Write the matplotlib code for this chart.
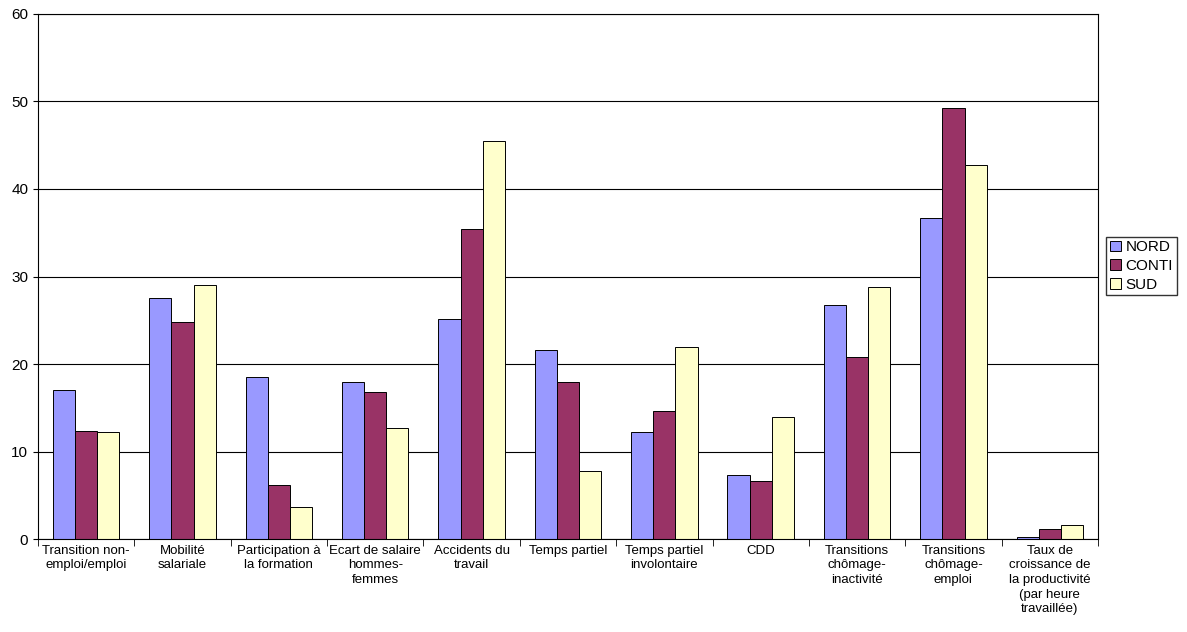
import numpy as np
import matplotlib.pyplot as plt

plt.rcParams['font.family'] = ['Liberation Sans', 'DejaVu Sans']

categories = ["Transition non-\nemploi/emploi", "Mobilité\nsalariale", "Participation à\nla formation",
              "Ecart de salaire\nhommes-\nfemmes", "Accidents du\ntravail", "Temps partiel",
              "Temps partiel\ninvolontaire", "CDD", "Transitions\nchômage-\ninactivité",
              "Transitions\nchômage-\nemploi", "Taux de\ncroissance de\nla productivité\n(par heure\ntravaillée)"]
nord = [17.0, 27.5, 18.5, 18.0, 25.2, 21.6, 12.2, 7.3, 26.7, 36.7, 0.2]
conti = [12.4, 24.8, 6.2, 16.8, 35.4, 17.9, 14.6, 6.6, 20.8, 49.2, 1.2]
sud = [12.2, 29.0, 3.7, 12.7, 45.5, 7.8, 22.0, 13.9, 28.8, 42.7, 1.6]

fig = plt.figure(figsize=(11.87, 6.32), dpi=100)
ax = fig.add_axes([0.032, 0.147, 0.893, 0.831])
x = np.arange(len(categories))
w = 0.23
ax.set_axisbelow(True)
ax.yaxis.grid(True, color='black', linewidth=0.8)
ax.bar(x - w, nord, w, color='#9999FF', edgecolor='black', linewidth=0.7, label='NORD')
ax.bar(x, conti, w, color='#993366', edgecolor='black', linewidth=0.7, label='CONTI')
ax.bar(x + w, sud, w, color='#FFFFCC', edgecolor='black', linewidth=0.7, label='SUD')
ax.set_xlim(-0.5, len(categories) - 0.5)
ax.set_ylim(0, 60)
ax.set_yticks(range(0, 61, 10))
ax.tick_params(axis='y', labelsize=11, direction='out')
ax.set_xticks(x)
ax.set_xticklabels(categories, fontsize=9.5, va='top', linespacing=1.3)
ax.tick_params(axis='x', length=0, pad=4)
ax.set_xticks(np.arange(-0.5, len(categories), 1), minor=True)
ax.tick_params(axis='x', which='minor', length=5, direction='out')
for s in ax.spines.values():
    s.set_color('black')
ax.legend(loc='center left', bbox_to_anchor=(1.008, 0.52), fontsize=11, frameon=True,
          fancybox=False, edgecolor='black', handlelength=0.7, handleheight=0.7,
          handletextpad=0.3, borderpad=0.25, labelspacing=0.3, borderaxespad=0)
fig.savefig('out.png', dpi=100)
